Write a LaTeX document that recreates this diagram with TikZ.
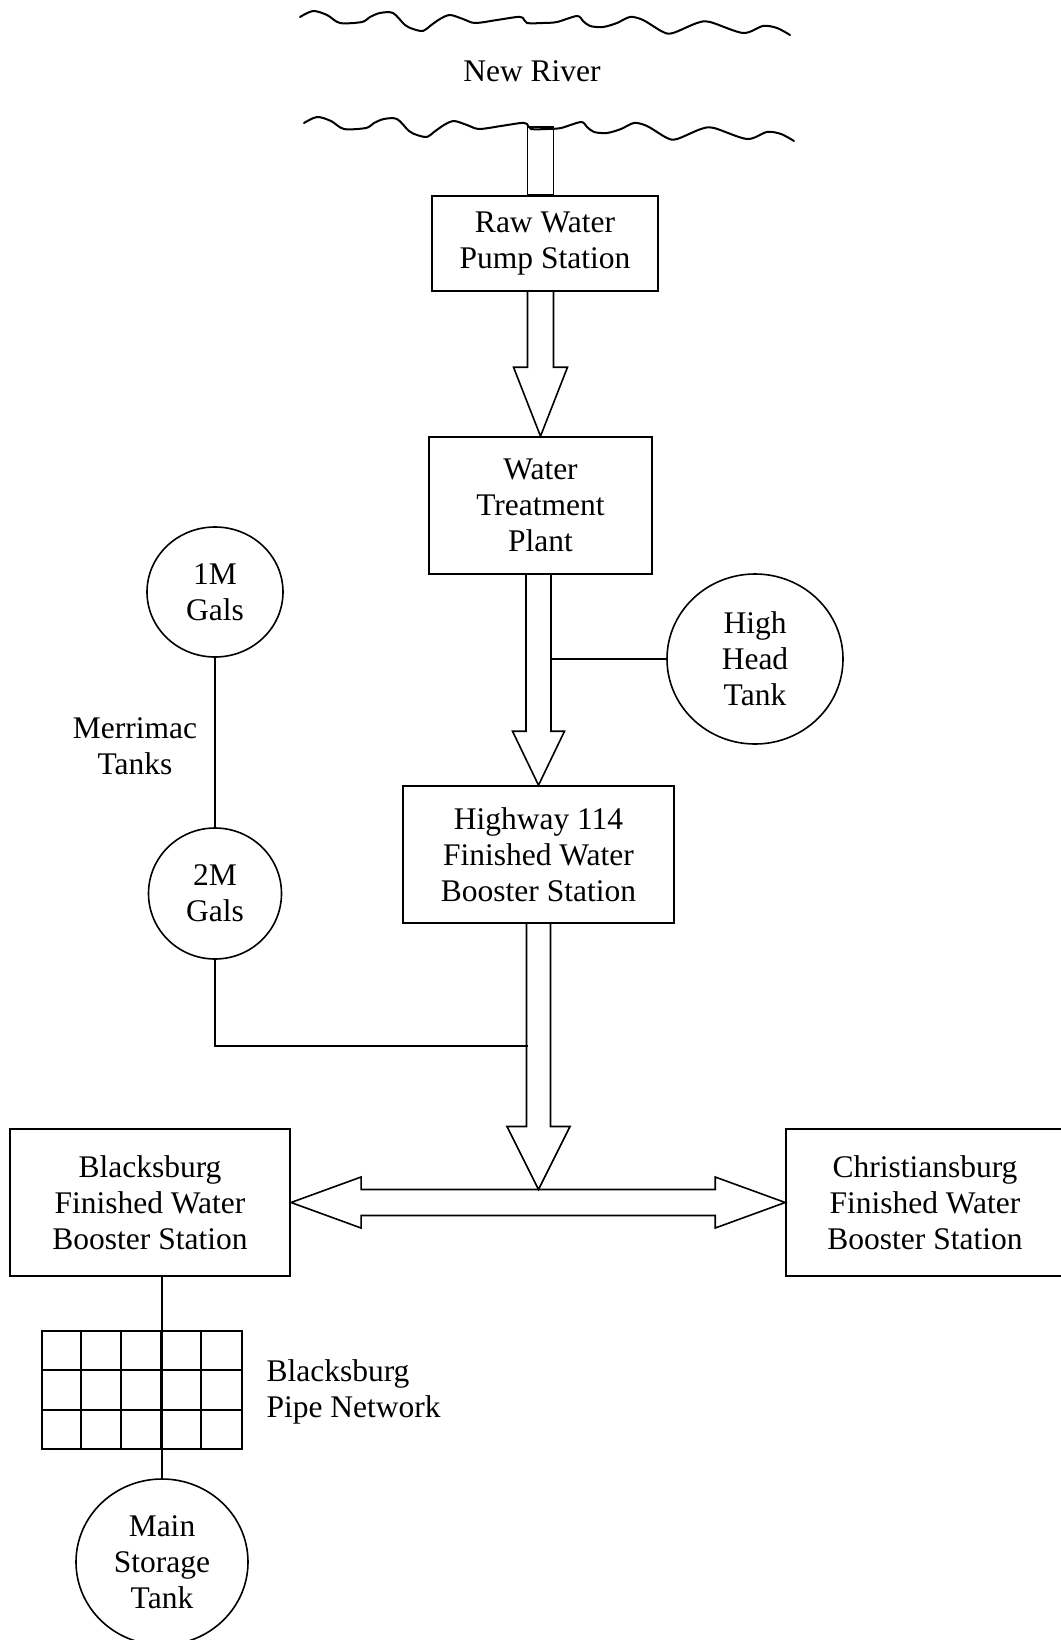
\documentclass[tikz,border=0pt]{standalone}
\usepackage{fontspec}
\setmainfont{Liberation Serif}
\usetikzlibrary{calc,shapes.geometric}

\begin{document}
\begin{tikzpicture}[x=1pt, y=-1pt,
    font=\fontsize{31.5}{36}\selectfont,
    box/.style={draw, line width=1.6pt, inner sep=0, align=center},
    tank/.style={ellipse, draw, line width=1.6pt, inner sep=0, align=center},
    pipe/.style={draw, line width=1.6pt, line join=miter},
    link/.style={line width=1.6pt},
    bank/.style={line width=2pt, line cap=round, line join=round}
]
\useasboundingbox (0,0) rectangle (1060,1640);

% River banks
\foreach \dx/\dy in {0/0, 4/106}
  \draw[bank, shift={(\dx,\dy)}] plot[smooth, tension=0.5] coordinates {
    (300,17) (313,11) (327,15) (340,23) (362,22) (370,17) (380,13) (393,13)
    (405,25) (413,29) (423,31) (430,26) (440,19) (450,15) (463,19) (475,23)
    (497,20) (517,17) (523,18) (527,23) (543,23) (557,22) (577,16) (583,21)
    (590,26) (603,27) (617,23) (630,17) (643,20) (663,32) (673,33) (697,23)
    (710,22) (743,33) (763,26) (777,28) (790,35)};
\node (river) at (532,71.5) {New River};

% Stations
\node[box, minimum width=226, minimum height=95] (raw) at (545,243.5) {Raw Water\\Pump Station};
\node[box, minimum width=223, minimum height=137] (wtp) at (540.5,505.5) {Water\\Treatment\\Plant};
\node[box, minimum width=271, minimum height=137] (hwy) at (538.5,854.5) {Highway 114\\Finished Water\\Booster Station};
\node[box, minimum width=280.5, minimum height=147] (bbs) at (150,1202.5) {Blacksburg\\Finished Water\\Booster Station};
\node[box, minimum width=278, minimum height=147] (cbs) at (925,1202.5) {Christiansburg\\Finished Water\\Booster Station};

% Tanks
\node[tank, minimum width=176, minimum height=170] (hht) at (755,659) {High\\Head\\Tank};
\node[tank, minimum width=136, minimum height=130] (m1) at (215,592) {1M\\Gals};
\node[tank, minimum width=133, minimum height=131] (m2) at (215,893.5) {2M\\Gals};
\node[tank, minimum width=172, minimum height=166] (mst) at (162,1562) {Main\\Storage\\Tank};
\node[align=center] (mlabel) at (135,746) {Merrimac\\Tanks};

% Pipe network
\node[draw, line width=1.6pt, minimum width=200, minimum height=118, inner sep=0] (net) at (142,1390) {};
\foreach \i in {1,...,4}
  \draw[link] ($(net.north west)+(\i*40,0)$) -- ($(net.south west)+(\i*40,0)$);
\foreach \j in {1,2}
  \draw[link] ($(net.north west)!\j/3!(net.south west)$) -- ($(net.north east)!\j/3!(net.south east)$);
\node[anchor=west, align=left] (netlabel) at (263,1391.5) {Blacksburg\\Pipe Network};

% Block arrows
\coordinate (intake) at (raw.north -| wtp.north);
\coordinate (a1) at (raw.south -| wtp.north);
\coordinate (a2) at (wtp.south -| hwy.north);
\path (bbs.east -| hwy.south) ++(0,-13) coordinate (jn);
\coordinate (merge) at ($(hwy.south)+(-10.5,122)$);

\draw[pipe] ($(intake)+(-13,0)$) rectangle ($(intake)+(13,-68)$);
\draw[pipe] ($(a1)+(-13,0)$) -- ($(wtp.north)+(-13,-69)$) -- ($(wtp.north)+(-27,-69)$) -- (wtp.north)
    -- ($(wtp.north)+(27,-69)$) -- ($(wtp.north)+(13,-69)$) -- ($(a1)+(13,0)$);
\draw[pipe] ($(a2)+(-12.5,0)$) -- ($(hwy.north)+(-12.5,-54)$) -- ($(hwy.north)+(-26,-54)$) -- (hwy.north)
    -- ($(hwy.north)+(26,-54)$) -- ($(hwy.north)+(12.5,-54)$) -- ($(a2)+(12.5,0)$);
\draw[pipe] ($(hwy.south)+(-12,0)$) -- ($(jn)+(-12,-63)$) -- ($(jn)+(-31.5,-63)$) -- (jn)
    -- ($(jn)+(31.5,-63)$) -- ($(jn)+(12,-63)$) -- ($(hwy.south)+(12,0)$);
\draw[pipe] (bbs.east) -- ($(bbs.east)+(70,-25.5)$) -- ($(bbs.east)+(70,-13)$) -- ($(cbs.west)+(-70,-13)$)
    -- ($(cbs.west)+(-70,-25.5)$) -- (cbs.west) -- ($(cbs.west)+(-70,25.5)$) -- ($(cbs.west)+(-70,13)$)
    -- ($(bbs.east)+(70,13)$) -- ($(bbs.east)+(70,25.5)$) -- cycle;

% Connections
\draw[link] (hht.west) -- ($(hht.west -| a2)+(12.5,0)$);
\draw[link] (m1) -- (m2);
\draw[link] (m2) |- (merge);
\draw[link] (mst) -- (mst |- bbs.south);
\end{tikzpicture}
\end{document}
